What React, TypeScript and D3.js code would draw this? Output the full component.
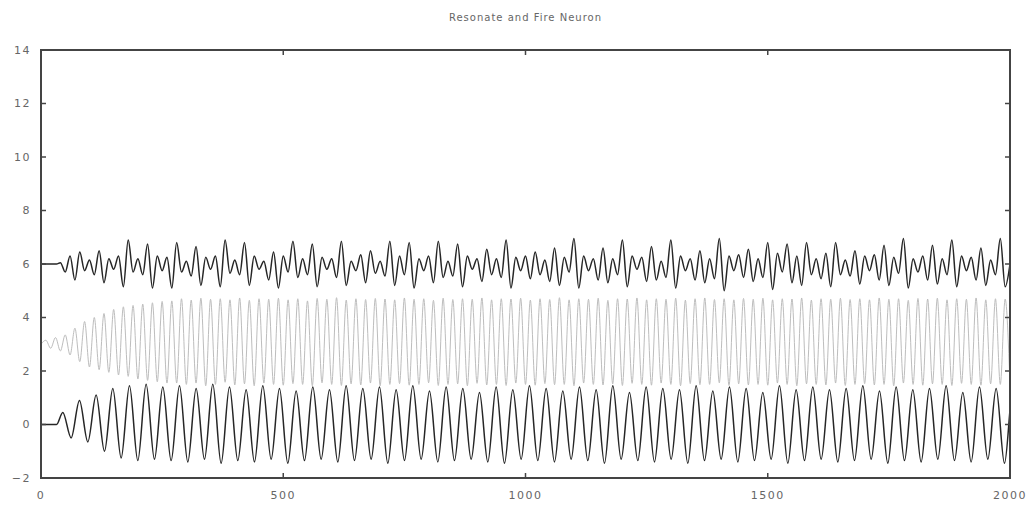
import React from "react";
import * as d3 from "d3";

// ---- data ----
const chartTitle = "Resonate and Fire Neuron";
const xTicks = [0, 500, 1000, 1500, 2000];
const yTicks = [-2, 0, 2, 4, 6, 8, 10, 12, 14];

// bottom trace (black): flat lead-in, then extrema sampled every half period
const bottomLeadIn: [number, number][] = [[0, 0], [32, 0]];
const bottomStart = 45;
const bottomStep = 17.2;
const bottomExtrema = [
  0.45, -0.5, 0.9, -0.65, 1.1, -1.0, 1.35, -1.25, 1.45, -1.35,
  1.5, -1.3, 1.4, -1.35, 1.45, -1.4, 1.35, -1.3, 1.5, -1.45,
  1.4, -1.35, 1.3, -1.4, 1.45, -1.3, 1.35, -1.45, 1.25, -1.35,
  1.4, -1.3, 1.3, -1.4, 1.45, -1.35, 1.35, -1.3, 1.4, -1.45,
  1.3, -1.35, 1.45, -1.3, 1.25, -1.4, 1.4, -1.35, 1.35, -1.3,
  1.2, -1.4, 1.4, -1.45, 1.3, -1.3, 1.45, -1.35, 1.35, -1.4,
  1.25, -1.3, 1.4, -1.35, 1.3, -1.45, 1.45, -1.3, 1.2, -1.35,
  1.4, -1.4, 1.35, -1.3, 1.3, -1.45, 1.45, -1.35, 1.25, -1.3,
  1.4, -1.4, 1.35, -1.35, 1.2, -1.3, 1.45, -1.45, 1.3, -1.35,
  1.4, -1.3, 1.3, -1.4, 1.35, -1.35, 1.45, -1.3, 1.25, -1.45,
  1.4, -1.35, 1.3, -1.4, 1.35, -1.3, 1.45, -1.35, 1.2, -1.4,
  1.4, -1.3, 1.35, -1.45, 1.3, -1.35,
];

// middle trace (gray): starts at 3, extrema every 10 time units
const grayStartValue = 3.0;
const grayStart = 10;
const grayStep = 10;
const grayExtrema = [
  3.15, 2.85, 3.25, 2.75, 3.35, 2.6, 3.6, 2.35, 3.85, 2.15,
  4.0, 2.05, 4.15, 1.95, 4.3, 1.85, 4.4, 1.8, 4.45, 1.7,
  4.5, 1.65, 4.55, 1.6, 4.6, 1.55, 4.62, 1.55,
  4.7, 1.5, 4.65, 1.55, 4.72, 1.45, 4.68, 1.5, 4.7, 1.58, 4.66, 1.48, 4.73, 1.52, 4.64, 1.45, 4.7, 1.55, 4.68, 1.5,
  4.72, 1.47, 4.66, 1.53, 4.7, 1.5, 4.62, 1.45, 4.71, 1.56, 4.68, 1.5, 4.74, 1.46, 4.65, 1.52, 4.7, 1.48, 4.67, 1.55,
  4.71, 1.45, 4.69, 1.5, 4.66, 1.53, 4.73, 1.47, 4.68, 1.5, 4.7, 1.56, 4.64, 1.46, 4.72, 1.5, 4.67, 1.52, 4.7, 1.45,
  4.68, 1.54, 4.73, 1.48, 4.66, 1.5, 4.7, 1.46, 4.69, 1.55, 4.72, 1.5, 4.65, 1.47, 4.7, 1.53, 4.67, 1.49, 4.74, 1.5,
  4.66, 1.45, 4.7, 1.55, 4.68, 1.5, 4.72, 1.48, 4.64, 1.52, 4.7, 1.46, 4.69, 1.54, 4.73, 1.5, 4.66, 1.47, 4.7, 1.55,
  4.68, 1.5, 4.72, 1.45, 4.65, 1.53, 4.7, 1.49, 4.73, 1.5, 4.67, 1.56, 4.7, 1.46, 4.66, 1.52, 4.71, 1.48, 4.68, 1.5,
  4.72, 1.47, 4.66, 1.55, 4.7, 1.5, 4.69, 1.45, 4.73, 1.52, 4.65, 1.5, 4.7, 1.48, 4.68, 1.55, 4.72, 1.46, 4.67, 1.5,
  4.7, 1.53, 4.66, 1.48, 4.73, 1.5, 4.68, 1.45, 4.7, 1.55, 4.64, 1.5, 4.71, 1.47, 4.69, 1.52, 4.72, 1.5, 4.66, 1.46,
  4.7, 1.54, 4.68, 1.5, 4.73, 1.47, 4.66, 1.52, 4.7, 1.5, 4.69, 1.48,
];

// top trace (black): flat at 6, then wiggles every 10 time units
const topLeadIn: [number, number][] = [[0, 6.0], [32, 6.0]];
const topStart = 40;
const topStep = 10;
const topExtrema = [
  6.05, 5.7, 6.3, 5.4, 6.45, 5.75, 6.15, 5.6, 6.5, 5.3,
  6.2, 5.8, 6.3, 5.15, 6.9, 5.7, 6.2, 5.6, 6.75, 5.1,
  6.3, 5.75, 6.25, 5.1, 6.8, 5.7, 6.1, 5.55, 6.65, 5.2,
  6.25, 5.8, 6.3, 5.15, 6.9, 5.65, 6.15, 5.6, 6.8, 5.2,
  6.3, 5.8, 6.1, 5.4, 6.45, 5.1, 6.3, 5.7, 6.85, 5.5,
  6.2, 5.6, 6.75, 5.15, 6.25, 5.8, 6.2, 5.5, 6.85, 5.2,
  6.1, 5.75, 6.35, 5.3, 6.5, 5.65, 6.1, 5.55, 6.85, 5.2,
  6.3, 5.6, 6.8, 5.1, 6.2, 5.75, 6.3, 5.3, 6.85, 5.5,
  6.1, 5.55, 6.75, 5.15, 6.3, 5.8, 6.2, 5.35, 6.55, 5.6,
  6.2, 5.5, 6.9, 5.1, 6.25, 5.75, 6.3, 5.45, 6.45, 5.6,
  6.15, 5.35, 6.6, 5.2, 6.25, 5.7, 6.95, 5.1, 6.3, 5.75,
  6.2, 5.4, 6.6, 5.3, 6.2, 5.6, 6.9, 5.15, 6.3, 5.8,
  6.25, 5.35, 6.65, 5.4, 6.1, 5.5, 6.9, 5.1, 6.3, 5.75,
  6.2, 5.4, 6.5, 5.3, 6.2, 5.45, 6.95, 5.0, 6.3, 5.75,
  6.35, 5.5, 6.55, 5.35, 6.2, 5.5, 6.8, 5.05, 6.4, 5.7,
  6.75, 5.3, 6.3, 5.2, 6.8, 5.6, 6.2, 5.45, 6.4, 5.15,
  6.8, 5.6, 6.15, 5.55, 6.5, 5.25, 6.3, 5.75, 6.35, 5.4,
  6.7, 5.2, 6.25, 5.65, 6.95, 5.1, 6.2, 5.7, 6.3, 5.4,
  6.7, 5.25, 6.2, 5.6, 6.9, 5.15, 6.3, 5.75, 6.25, 5.4,
  6.6, 5.2, 6.15, 5.6, 6.95, 5.15, 6.0,
];

// ---- layout ----
const W = 1032;
const H = 507;
const M = { left: 41, right: 1010, top: 50, bottom: 478 };

type Pt = { t: number; v: number };

function buildSeries(lead: [number, number][], start: number, step: number, vals: number[]): Pt[] {
  return [
    ...lead.map(([t, v]) => ({ t, v })),
    ...vals.map((v, i) => ({ t: start + i * step, v })),
  ];
}

export default function App() {
  const x = d3.scaleLinear().domain([0, 2000]).range([M.left, M.right]);
  const y = d3.scaleLinear().domain([-2, 14]).range([M.bottom, M.top]);

  const line = d3
    .line<Pt>()
    .x((d) => x(d.t))
    .y((d) => y(d.v))
    .curve(d3.curveMonotoneX);

  const bottom = buildSeries(bottomLeadIn, bottomStart, bottomStep, bottomExtrema);
  const gray = buildSeries([[0, grayStartValue]], grayStart, grayStep, grayExtrema);
  const top = buildSeries(topLeadIn, topStart, topStep, topExtrema);

  const labelFont = "'DejaVu Sans', sans-serif";
  const axisColor = "#444";
  const textColor = "#666";
  const tickLen = 5;

  return (
    <svg
      width={W}
      height={H}
      style={{ position: "absolute", left: 0, top: 0, background: "#fff" }}
    >
      <defs>
        <clipPath id="plotclip">
          <rect x={M.left} y={M.top} width={M.right - M.left} height={M.bottom - M.top} />
        </clipPath>
      </defs>
      <text
        x={(M.left + M.right) / 2}
        y={21}
        textAnchor="middle"
        fontFamily={labelFont}
        fontSize={10}
        letterSpacing={1}
        fill={textColor}
      >
        {chartTitle}
      </text>

      <g clipPath="url(#plotclip)">
        <path d={line(gray) || ""} fill="none" stroke="#bdbdbd" strokeWidth={1} />
        <path d={line(bottom) || ""} fill="none" stroke="#262626" strokeWidth={1.5} />
        <path d={line(top) || ""} fill="none" stroke="#262626" strokeWidth={1.5} />
      </g>

      {/* ticks */}
      {yTicks.map((v) => (
        <g key={"y" + v}>
          <line x1={M.left} x2={M.left + tickLen} y1={y(v)} y2={y(v)} stroke={axisColor} strokeWidth={1.5} />
          <line x1={M.right} x2={M.right - tickLen} y1={y(v)} y2={y(v)} stroke={axisColor} strokeWidth={1.5} />
          <text
            x={31}
            y={y(v)}
            dy="0.35em"
            textAnchor="end"
            fontFamily={labelFont}
            fontSize={11}
            letterSpacing={1.5}
            fill={textColor}
          >
            {d3.format("d")(v)}
          </text>
        </g>
      ))}
      {xTicks.map((v) => (
        <g key={"x" + v}>
          <line x1={x(v)} x2={x(v)} y1={M.bottom} y2={M.bottom - tickLen} stroke={axisColor} strokeWidth={1.5} />
          <line x1={x(v)} x2={x(v)} y1={M.top} y2={M.top + tickLen} stroke={axisColor} strokeWidth={1.5} />
          <text
            x={x(v)}
            y={499}
            textAnchor="middle"
            fontFamily={labelFont}
            fontSize={11}
            letterSpacing={1.5}
            fill={textColor}
          >
            {d3.format("d")(v)}
          </text>
        </g>
      ))}

      <rect
        x={M.left}
        y={M.top}
        width={M.right - M.left}
        height={M.bottom - M.top}
        fill="none"
        stroke={axisColor}
        strokeWidth={2}
      />
    </svg>
  );
}
